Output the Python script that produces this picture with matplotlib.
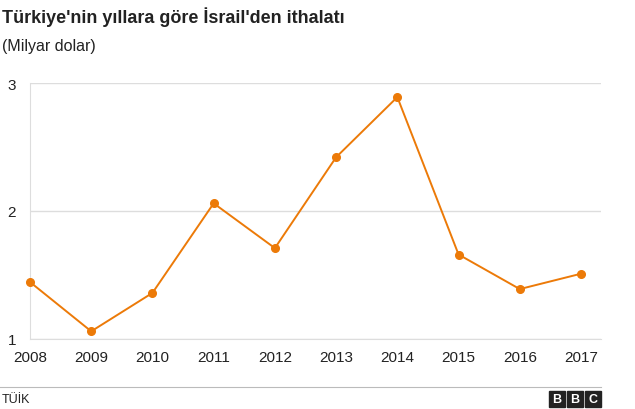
import matplotlib
matplotlib.use("Agg")
import matplotlib.pyplot as plt
from matplotlib.patches import Rectangle
from matplotlib.lines import Line2D

years = [2008, 2009, 2010, 2011, 2012, 2013, 2014, 2015, 2016, 2017]
values = [1.445, 1.06, 1.36, 2.06, 1.71, 2.42, 2.89, 1.66, 1.39, 1.51]
yticks = [1, 2, 3]

plt.rcParams["font.family"] = "Liberation Sans"
fig = plt.figure(figsize=(6.35, 4.10), dpi=100)
ax = fig.add_axes([30/635, 1-340/410, 571/635, 256/410])
ax.plot(years, values, color="#ec7a08", lw=1.4, marker="o", ms=5.5, zorder=3, clip_on=False)
ax.set_xlim(2008, 2008 + (601-30)/(581-30)*9)
ax.set_ylim(1, 3)
ax.set_yticks(yticks)
ax.set_xticks(years)
ax.grid(axis="y", color="#dddddd", lw=1)
for s in ["top", "right"]:
    ax.spines[s].set_visible(False)
ax.spines["left"].set_color("#dddddd")
ax.spines["bottom"].set_color("#dddddd")
ax.tick_params(axis="y", length=0, labelsize=11, pad=10, colors="#222222")
ax.tick_params(axis="x", length=0, labelsize=11, pad=8, colors="#222222")

fig.text(2/635, 1-17/410, "Türkiye'nin yıllara göre İsrail'den ithalatı", fontsize=13, fontweight="bold", va="center", color="#222222")
fig.text(2/635, 1-47/410, "(Milyar dolar)", fontsize=11.5, va="center", color="#222222")
fig.add_artist(Line2D([0, 601/635], [1-388/410]*2, color="#bbbbbb", lw=0.8))
fig.text(2/635, 1-400/410, "TÜİK", fontsize=9, va="center", color="#222222")
for i, ch in enumerate("BBC"):
    x0 = (549 + i*18)/635
    fig.add_artist(Rectangle((x0, 1-408/410), 16/635, 16/410, color="#222222", transform=fig.transFigure))
    fig.text(x0 + 8/635, 1-400/410, ch, color="white", fontsize=9, fontweight="bold", ha="center", va="center")
fig.savefig("out.png", dpi=100)
